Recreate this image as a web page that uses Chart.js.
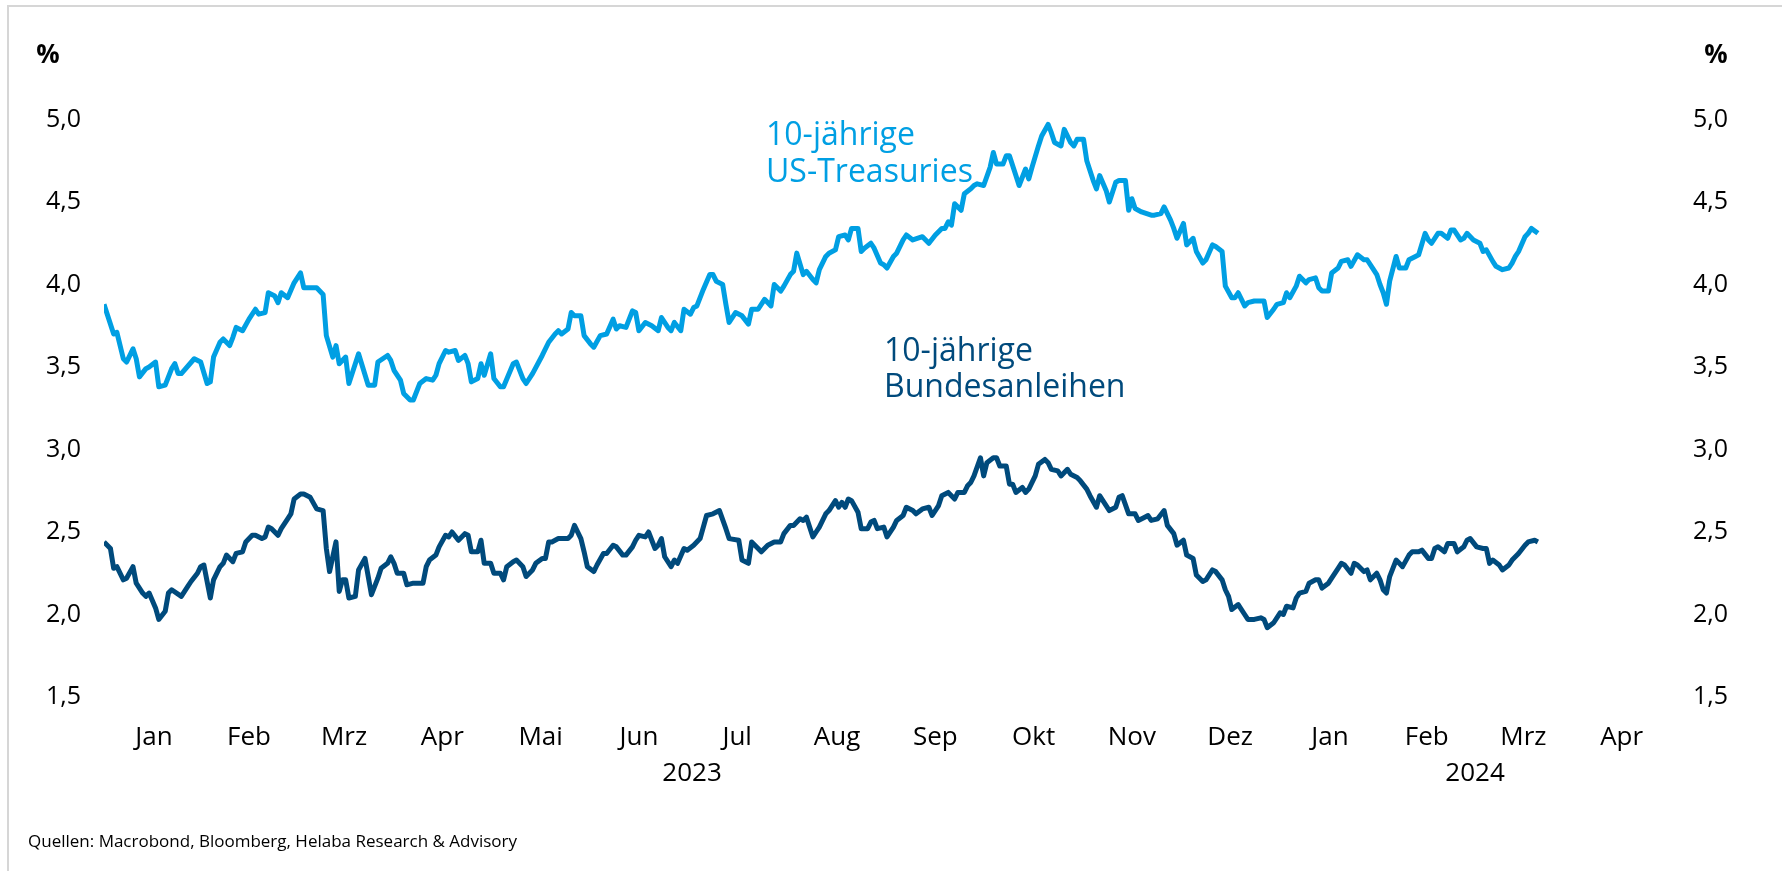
<!DOCTYPE html>
<html>
<head>
<meta charset="utf-8">
<script src="https://cdn.jsdelivr.net/npm/chart.js@4.4.1/dist/chart.umd.min.js"></script>
<style>
html,body{margin:0;padding:0;background:#fff;}
canvas{display:block;}
</style>
</head>
<body>
<canvas id="c" width="1782" height="871"></canvas>
<script>
// ---- data (x values are days since 2023-01-01) ----
const monthLabels = ['Jan','Feb','Mrz','Apr','Mai','Jun','Jul','Aug','Sep','Okt','Nov','Dez','Jan','Feb','Mrz','Apr'];
const yearLabels = ['2023','2024'];
const yTickValues = [1.5,2.0,2.5,3.0,3.5,4.0,4.5,5.0];

const usDays = [0,3,4,6,7,9,10,11,13,14,16,17,19,21,22,23,24,28,30,32,33,34,36,37,39,40,41,43,45,47,48,50,51,53,54,55,57,59,61,62,66,68,69,71,72,73,75,76,79,82,84,85,88,89,
90,92,93,95,96,98,100,102,103,104,106,107,109,110,112,113,114,116,117,118,120,121,123,124,127,128,130,131,133,136,138,140,141,142,144,145,146,148,149,151,152,154,156,158,159,160,162,164,165,166,168,170,172,173,175,176,177,179,
180,182,183,184,186,188,189,190,192,193,194,196,198,200,201,203,205,207,208,210,211,213,214,215,217,218,220,221,222,224,225,227,228,230,231,232,234,235,236,238,239,241,242,243,245,246,248,249,251,254,256,258,260,261,262,263,264,266,267,269,
270,271,273,275,276,277,279,280,281,283,284,286,287,288,290,291,293,294,295,297,298,300,301,302,304,305,307,308,309,311,312,314,315,317,318,319,320,322,325,326,328,329,331,332,333,335,336,338,339,341,342,344,345,347,348,350,351,352,354,355,357,
360,361,363,364,366,367,368,370,371,373,374,376,377,378,380,381,383,384,386,387,389,391,392,394,395,396,397,398,399,401,402,404,405,407,408,410,411,412,414,415,417,418,419,421,422,423,425,427,428,429,431,432,434,436,437,438,439,441,442,443,445];
const usYields = [3.88,3.70,3.71,3.55,3.53,3.61,3.55,3.44,3.49,3.50,3.53,3.38,3.39,3.49,3.52,3.46,3.46,3.55,3.53,3.40,3.41,3.56,3.65,3.67,3.63,3.68,3.74,3.72,3.79,3.85,3.82,3.83,3.95,3.93,3.89,3.95,3.92,4.01,4.07,3.98,3.98,3.94,3.69,3.56,3.63,3.52,3.56,3.40,3.58,3.39,3.39,3.53,3.57,3.54,
3.48,3.42,3.34,3.30,3.30,3.40,3.43,3.42,3.45,3.52,3.60,3.59,3.60,3.54,3.57,3.52,3.41,3.43,3.52,3.45,3.58,3.43,3.38,3.38,3.52,3.53,3.43,3.40,3.46,3.57,3.65,3.70,3.72,3.70,3.73,3.83,3.81,3.81,3.69,3.64,3.62,3.69,3.70,3.79,3.73,3.75,3.74,3.84,3.83,3.72,3.77,3.75,3.72,3.80,3.74,3.72,3.77,3.72,
3.85,3.82,3.86,3.87,3.97,4.06,4.06,4.02,4.00,3.88,3.77,3.83,3.81,3.76,3.85,3.85,3.91,3.87,4.00,3.96,3.99,4.06,4.08,4.19,4.06,4.08,4.03,4.01,4.09,4.17,4.19,4.21,4.29,4.30,4.27,4.34,4.34,4.20,4.22,4.25,4.22,4.13,4.12,4.10,4.17,4.19,4.27,4.30,4.27,4.29,4.25,4.30,4.34,4.34,4.38,4.36,4.49,4.45,4.55,4.58,
4.60,4.61,4.60,4.71,4.80,4.73,4.73,4.78,4.78,4.66,4.60,4.70,4.64,4.71,4.84,4.90,4.97,4.92,4.86,4.84,4.94,4.86,4.84,4.88,4.88,4.75,4.63,4.58,4.66,4.57,4.50,4.62,4.63,4.63,4.45,4.52,4.46,4.44,4.42,4.42,4.43,4.47,4.39,4.34,4.28,4.37,4.24,4.28,4.20,4.13,4.15,4.24,4.23,4.20,3.99,3.92,3.92,3.95,3.87,3.89,3.90,
3.90,3.80,3.85,3.88,3.89,3.95,3.92,3.99,4.05,4.01,4.03,4.04,3.98,3.96,3.96,4.07,4.10,4.14,4.15,4.11,4.18,4.15,4.15,4.09,4.06,4.00,3.95,3.88,4.02,4.17,4.10,4.10,4.15,4.17,4.18,4.31,4.27,4.25,4.31,4.31,4.28,4.33,4.33,4.27,4.28,4.31,4.27,4.25,4.20,4.21,4.14,4.11,4.09,4.10,4.13,4.17,4.20,4.29,4.31,4.34,4.31];

const bundDays = [0,2,3,4,6,7,9,10,12,13,14,16,17,19,20,21,24,26,27,29,30,31,33,34,36,37,38,40,41,43,44,46,47,49,50,51,52,54,55,57,58,59,61,62,64,66,68,69,70,72,73,74,75,76,78,79,81,82,83,85,86,88,89,
90,91,93,94,96,99,100,101,103,104,106,107,108,110,112,113,114,116,117,118,120,121,123,124,125,127,128,130,131,133,134,136,137,138,139,141,143,144,145,146,148,149,150,152,153,155,156,158,159,161,162,164,165,166,168,169,171,172,173,174,176,177,178,
180,181,183,185,187,189,191,193,194,197,198,200,201,203,204,206,208,210,211,213,214,216,217,218,220,221,222,224,225,227,228,229,230,231,232,234,235,237,238,239,240,242,243,245,246,248,249,251,252,254,256,257,259,260,262,264,265,267,268,269,
270,272,273,274,276,277,278,280,281,282,283,285,286,287,289,290,292,293,294,296,297,299,300,302,303,305,306,308,309,311,312,314,315,316,318,320,321,323,324,325,327,329,330,332,333,335,336,338,339,341,342,344,345,347,348,349,350,352,354,355,357,359,
360,361,363,365,366,367,369,370,371,373,374,376,377,378,380,381,383,384,385,387,388,389,391,392,393,395,396,397,398,399,401,402,403,405,406,408,409,411,412,413,414,416,417,419,420,422,423,424,426,428,429,430,431,433,434,436,437,439,441,442,444,445];
const bundYields = [2.44,2.40,2.28,2.29,2.21,2.22,2.29,2.19,2.13,2.11,2.13,2.04,1.97,2.02,2.13,2.15,2.11,2.17,2.20,2.25,2.29,2.30,2.10,2.21,2.29,2.31,2.36,2.32,2.37,2.38,2.44,2.48,2.48,2.46,2.47,2.53,2.52,2.48,2.52,2.58,2.61,2.70,2.73,2.73,2.71,2.64,2.63,2.40,2.26,2.44,2.14,2.21,2.21,2.10,2.11,2.27,2.34,2.23,2.12,2.22,2.28,2.31,2.35,
2.31,2.25,2.25,2.18,2.19,2.19,2.29,2.33,2.36,2.41,2.48,2.47,2.50,2.45,2.49,2.48,2.38,2.38,2.45,2.31,2.31,2.25,2.25,2.21,2.29,2.32,2.33,2.29,2.23,2.27,2.31,2.34,2.34,2.44,2.44,2.46,2.46,2.46,2.48,2.54,2.46,2.38,2.29,2.26,2.30,2.37,2.37,2.42,2.41,2.36,2.36,2.41,2.45,2.48,2.47,2.50,2.40,2.42,2.46,2.35,2.29,2.33,2.31,
2.40,2.39,2.42,2.46,2.60,2.61,2.63,2.52,2.46,2.45,2.33,2.31,2.44,2.40,2.38,2.42,2.44,2.44,2.49,2.54,2.54,2.58,2.57,2.59,2.47,2.50,2.53,2.61,2.63,2.69,2.65,2.68,2.65,2.70,2.69,2.62,2.52,2.52,2.56,2.57,2.52,2.53,2.47,2.53,2.57,2.60,2.65,2.63,2.61,2.64,2.65,2.60,2.66,2.72,2.74,2.70,2.74,2.74,2.78,2.80,
2.84,2.95,2.84,2.92,2.95,2.95,2.90,2.90,2.79,2.79,2.74,2.77,2.74,2.76,2.84,2.91,2.94,2.92,2.88,2.87,2.84,2.88,2.85,2.83,2.81,2.76,2.72,2.65,2.72,2.66,2.63,2.65,2.71,2.72,2.61,2.61,2.57,2.59,2.60,2.57,2.58,2.63,2.54,2.49,2.42,2.45,2.36,2.34,2.24,2.20,2.21,2.27,2.26,2.21,2.15,2.11,2.03,2.06,2.00,1.97,1.97,1.98,
1.97,1.92,1.95,2.01,2.00,2.05,2.04,2.10,2.13,2.14,2.19,2.21,2.21,2.16,2.19,2.22,2.28,2.31,2.30,2.25,2.31,2.30,2.26,2.27,2.21,2.25,2.21,2.15,2.13,2.23,2.33,2.31,2.29,2.36,2.38,2.38,2.39,2.34,2.34,2.40,2.41,2.38,2.43,2.43,2.38,2.41,2.45,2.46,2.41,2.40,2.40,2.31,2.33,2.30,2.27,2.30,2.33,2.37,2.42,2.44,2.45,2.44];

// ---- styles ----
const US_COLOR = '#009fe3';
const BUND_COLOR = '#004a7c';
const FONT = '"Open Sans", "Noto Sans", sans-serif';

const dayOf = (y, m, d) => (Date.UTC(y, m, d) - Date.UTC(2023, 0, 1)) / 864e5;
const monthStarts = [];
for (let i = 0; i <= monthLabels.length; i++) monthStarts.push(dayOf(2023, i, 1));
const monthMids = monthLabels.map((_, i) => (monthStarts[i] + monthStarts[i + 1]) / 2);
const yearSpans = [[monthStarts[0], monthStarts[12]], [monthStarts[12], monthStarts[16]]];

const usData = usDays.map((d, i) => ({x: d, y: usYields[i]}));
const bundData = bundDays.map((d, i) => ({x: d, y: bundYields[i]}));

const yTickFont = {family: FONT, size: 25};
const xTickFont = {family: FONT, size: 26};
const fmt = v => Number(v).toFixed(1).replace('.', ',');

const extras = {
  id: 'extras',
  afterDraw(chart) {
    const ctx = chart.ctx;
    ctx.save();
    // frame
    ctx.fillStyle = '#d6d6d6';
    ctx.fillRect(7, 5, 1782, 2);
    ctx.fillRect(7, 5, 2, 871);
    // percent units
    ctx.fillStyle = '#000';
    ctx.font = 'bold 26px ' + FONT;
    ctx.textAlign = 'center';
    ctx.textBaseline = 'middle';
    ctx.fillText('%', 48, 56);
    ctx.fillText('%', 1716, 56);
    // years
    const xs = chart.scales.x;
    ctx.font = '26px ' + FONT;
    yearLabels.forEach((t, i) => {
      ctx.fillText(t, xs.getPixelForValue((yearSpans[i][0] + yearSpans[i][1]) / 2), 774);
    });
    // series labels
    ctx.textAlign = 'left';
    ctx.textBaseline = 'alphabetic';
    ctx.font = '32px ' + FONT;
    ctx.fillStyle = US_COLOR;
    ctx.fillText('10-jährige', 766, 145);
    ctx.fillText('US-Treasuries', 766, 181.5);
    ctx.fillStyle = BUND_COLOR;
    ctx.fillText('10-jährige', 884, 360.5);
    ctx.fillText('Bundesanleihen', 884, 396.5);
    // source
    ctx.fillStyle = '#000';
    ctx.font = '17px ' + FONT;
    ctx.textBaseline = 'middle';
    ctx.fillText('Quellen: Macrobond, Bloomberg, Helaba Research & Advisory', 28, 842);
    ctx.restore();
  }
};

const yAxis = (pos, width) => ({
  type: 'linear',
  position: pos,
  min: 1.5,
  max: 5.0,
  afterBuildTicks: s => { s.ticks = yTickValues.map(v => ({value: v})); },
  afterFit: s => { s.width = width; },
  grid: {display: false, drawTicks: false},
  border: {display: false},
  ticks: {padding: 23, color: '#000', font: yTickFont, callback: v => fmt(v)}
});

new Chart(document.getElementById('c'), {
  type: 'line',
  data: {
    datasets: [
      {label: '10-jährige US-Treasuries', data: usData, borderColor: US_COLOR, borderWidth: 5, pointRadius: 0, tension: 0, borderJoinStyle: 'round', yAxisID: 'y'},
      {label: '10-jährige Bundesanleihen', data: bundData, borderColor: BUND_COLOR, borderWidth: 5, pointRadius: 0, tension: 0, borderJoinStyle: 'round', yAxisID: 'y'}
    ]
  },
  options: {
    responsive: false,
    devicePixelRatio: 1,
    animation: false,
    layout: {padding: {top: 119.5, left: 0, right: 0, bottom: 0}},
    plugins: {legend: {display: false}, tooltip: {enabled: false}, title: {display: false}},
    scales: {
      x: {
        type: 'linear',
        min: monthStarts[0],
        max: monthStarts[16],
        afterBuildTicks: s => { s.ticks = monthMids.map(v => ({value: v})); },
        afterFit: s => { s.height = 174; },
        grid: {display: false, drawTicks: false},
        border: {display: false},
        ticks: {autoSkip: false, maxRotation: 0, padding: 25, color: '#000', font: xTickFont,
                callback: (v, i) => monthLabels[i]}
      },
      y: yAxis('left', 104),
      y2: yAxis('right', 112)
    }
  },
  plugins: [extras]
});
</script>
</body>
</html>
